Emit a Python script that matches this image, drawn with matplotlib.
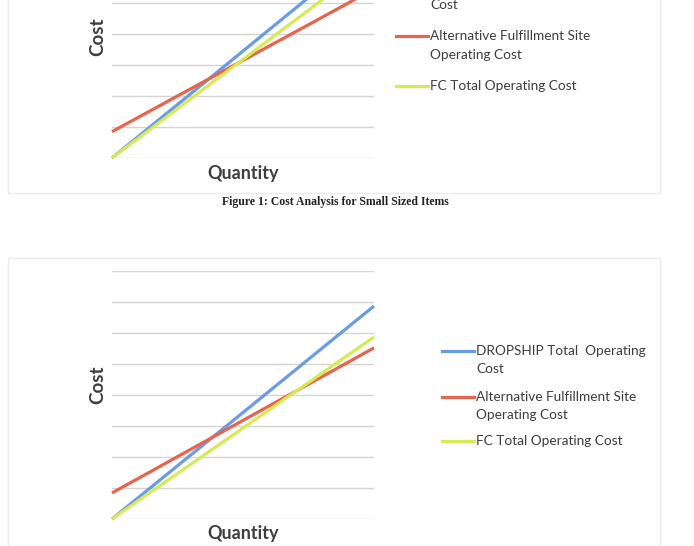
import matplotlib.pyplot as plt
from matplotlib.lines import Line2D
from matplotlib.patches import Rectangle

plt.rcParams['font.family'] = ['Lato', 'DejaVu Sans']

# quantity runs from 0 to 1 (no units shown), cost in gridline steps
quantity = [0, 1]
labels = ["DROPSHIP Total  Operating\nCost",
          "Alternative Fulfillment Site\nOperating Cost",
          "FC Total Operating Cost"]
colors = ['#6a9ce6', '#e8644d', '#d6ea55']

# Figure 1 - small sized items (top of the chart is cut off in the scan)
small_dropship = [0.0, 6.9]
small_alt = [0.85, 5.45]
small_fc = [0.0, 6.36]

# second chart
medium_dropship = [0.0, 6.87]
medium_alt = [0.84, 5.52]
medium_fc = [0.0, 5.87]

W, H = 694, 546
fig = plt.figure(figsize=(W / 100, H / 100), dpi=100)
fig.patch.set_facecolor('white')

txt_col = '#3d3d3d'
grid_col = '#d4d4d4'


def px_box(x0, y0, x1, y1):
    # pixel box (top-left origin) -> figure fraction [l, b, w, h]
    return [x0 / W, 1 - y1 / H, (x1 - x0) / W, (y1 - y0) / H]


def draw_chart(ax, series):
    for vals, c in zip(series, colors):
        ax.plot(quantity, vals, color=c, lw=2.3, solid_capstyle='butt', clip_on=False)
    ax.set_xlim(0, 1)
    ax.set_ylim(0, 8)
    ax.set_yticks(range(0, 9))
    ax.set_xticks([])
    ax.grid(axis='y', color=grid_col, lw=1.0)
    ax.set_axisbelow(True)
    ax.tick_params(left=False, labelleft=False)
    for s in ax.spines.values():
        s.set_visible(False)


def draw_legend(x_line, y_rows, y_text2):
    for i, (lab, c) in enumerate(zip(labels, colors)):
        y = y_rows[i]
        fig.add_artist(Line2D([x_line / W, (x_line + 32) / W], [1 - y / H, 1 - y / H],
                              color=c, lw=2.3, transform=fig.transFigure))
        lines = lab.split('\n')
        fig.text((x_line + 34) / W, 1 - y / H, lines[0], fontsize=9.8, color=txt_col,
                 va='center', ha='left')
        if len(lines) > 1:
            fig.text((x_line + 34) / W, 1 - (y + y_text2) / H, lines[1], fontsize=9.8,
                     color=txt_col, va='center', ha='left')


# chart frames (faint)
fig.add_artist(Rectangle((8 / W, 1 - 193 / H), 652 / W, 193 / H + 0.05, fill=False,
                         ec='#ebebeb', lw=1.0, transform=fig.transFigure))
fig.add_artist(Rectangle((8 / W, -0.05), 652 / W, 1 - 258 / H + 0.05, fill=False,
                         ec='#ebebeb', lw=1.0, transform=fig.transFigure))

# top chart: baseline at y=158, 31 px per step
ax1 = fig.add_axes(px_box(112, 158 - 8 * 31, 374, 158))
draw_chart(ax1, [small_dropship, small_alt, small_fc])
fig.text(98 / W, 1 - 37 / H, "Cost", rotation=90, fontsize=13.5, fontweight='bold',
         color=txt_col, ha='center', va='center')
fig.text(243 / W, 1 - 174 / H, "Quantity", fontsize=13, fontweight='bold',
         color=txt_col, ha='center', va='center')
draw_legend(396, [5 - 19, 36, 86], 19)

fig.text(335 / W, 1 - 202 / H, "Figure 1: Cost Analysis for Small Sized Items",
         family='Liberation Serif', fontweight='bold', fontsize=8.5, color='#222222',
         ha='center', va='center')

# bottom chart: baseline at y=519
ax2 = fig.add_axes(px_box(112, 519 - 8 * 31, 374, 519))
draw_chart(ax2, [medium_dropship, medium_alt, medium_fc])
fig.text(98 / W, 1 - 385 / H, "Cost", rotation=90, fontsize=13.5, fontweight='bold',
         color=txt_col, ha='center', va='center')
fig.text(243 / W, 1 - 533 / H, "Quantity", fontsize=13, fontweight='bold',
         color=txt_col, ha='center', va='center')
draw_legend(442, [351, 397, 441], 18)

fig.savefig('out.png', dpi=100, facecolor='white')
